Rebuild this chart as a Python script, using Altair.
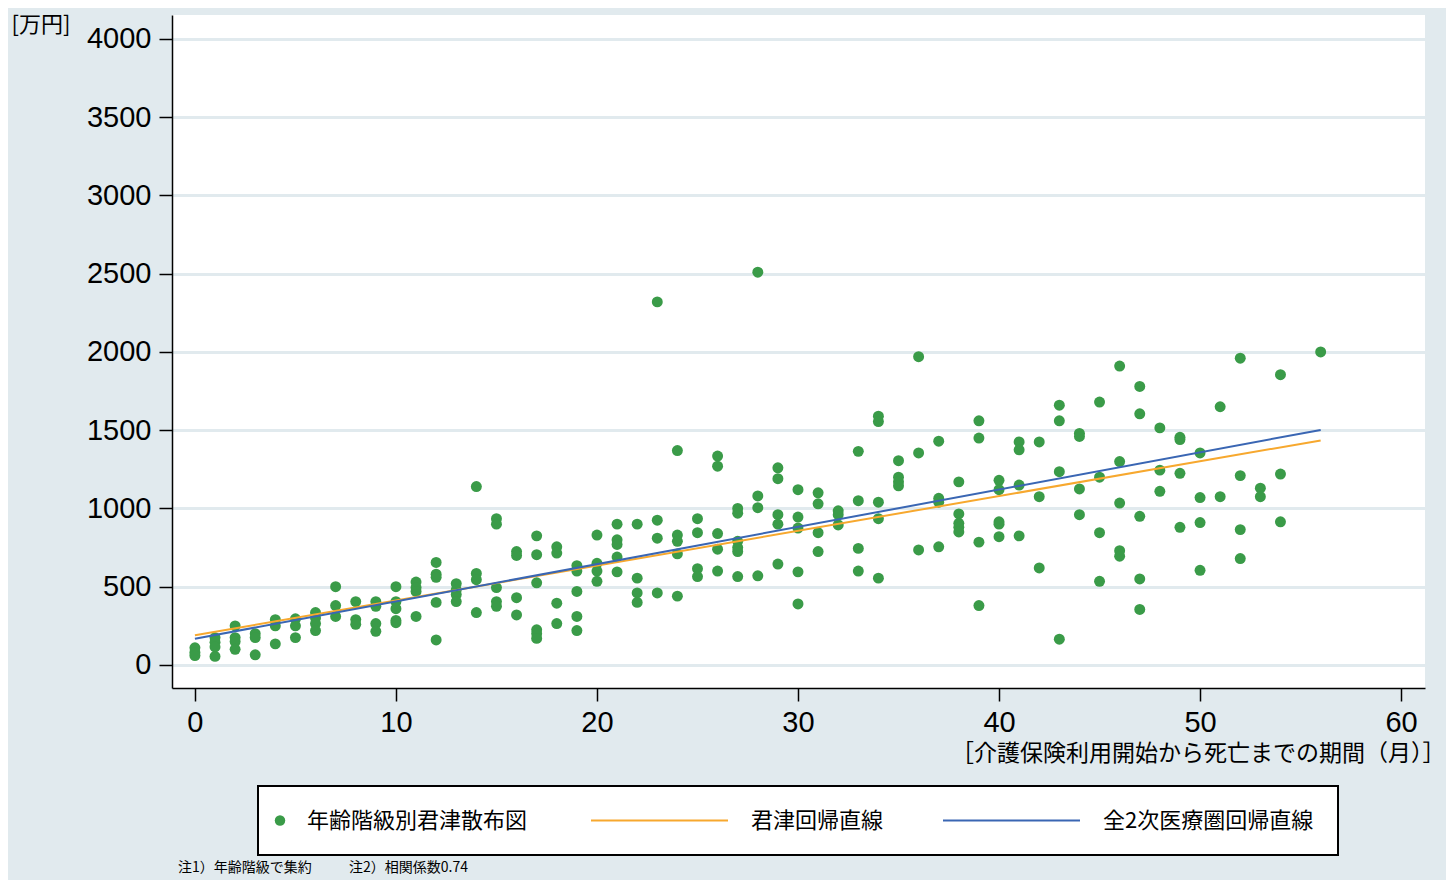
import altair as alt
import pandas as pd

# ---- data ----
month_values = [0, 1, 2, 3, 4, 5, 6, 7, 8, 9,
                10, 11, 12, 13, 14, 15, 16, 17, 18, 19,
                20, 21, 22, 23, 24, 25, 26, 27, 28, 29,
                30, 31, 32, 33, 34, 35, 36, 37, 38, 39,
                40, 41, 42, 43, 44, 45, 46, 47, 48, 49,
                50, 51, 52, 53, 54, 56]

cost_groups = [
    [110, 80, 60], [175, 145, 115, 55], [250, 175, 150, 100], [200, 175, 65],
    [290, 250, 135], [295, 250, 175], [335, 300, 265, 220], [500, 380, 310],
    [405, 290, 260], [405, 375, 265, 215],
    [500, 405, 360, 285, 270], [530, 495, 470, 310], [655, 580, 560, 400, 160],
    [520, 480, 450, 405], [1140, 585, 545, 335], [935, 900, 495, 405, 375],
    [725, 700, 430, 320], [825, 705, 525, 225, 200, 170], [755, 715, 395, 265],
    [635, 600, 470, 310, 220],
    [830, 650, 600, 535], [900, 800, 770, 690, 595], [900, 555, 460, 400],
    [2320, 925, 810, 460], [1370, 830, 790, 710, 440], [935, 845, 615, 565],
    [1335, 1270, 840, 740, 600], [1000, 970, 790, 750, 725, 565],
    [2510, 1080, 1005, 570], [1260, 1190, 960, 900, 645],
    [1120, 945, 875, 595, 390], [1100, 1030, 845, 725], [985, 960, 895],
    [1365, 1050, 745, 600], [1590, 1555, 1040, 935, 555], [1305, 1200, 1170, 1145],
    [1970, 1355, 735], [1430, 1065, 1040, 755], [1170, 965, 905, 880, 850],
    [1560, 1450, 785, 380],
    [1180, 1120, 915, 900, 820], [1425, 1375, 1150, 825], [1425, 1075, 620],
    [1660, 1560, 1235, 165], [1480, 1460, 1125, 960], [1680, 1200, 845, 535],
    [1910, 1300, 1035, 730, 695], [1780, 1605, 950, 550, 355], [1515, 1245, 1110],
    [1455, 1440, 1225, 880],
    [1355, 1070, 910, 605], [1650, 1075], [1960, 1210, 865, 680], [1130, 1075],
    [1855, 1220, 915], [2000],
]

fit_months = [0, 56]
fit_kimitsu = [190, 1435]
fit_all = [168, 1502]

scatter_name = "年齢階級別君津散布図"
line_names = ["君津回帰直線", "全2次医療圏回帰直線"]
scatter_color = "#3a9b48"
line_colors = ["#f7a82e", "#3a66b3"]

x_ticks = [0, 10, 20, 30, 40, 50, 60]
y_ticks = [0, 500, 1000, 1500, 2000, 2500, 3000, 3500, 4000]

y_unit = "[万円]"
x_title = "［介護保険利用開始から死亡までの期間（月）］"
notes = ["注1）年齢階級で集約", "注2）相関係数0.74"]

# ---- tables ----
rows = []
for m, grp in zip(month_values, cost_groups):
    for c in grp:
        rows.append({"month": m, "cost": c, "series": scatter_name})
pts = pd.DataFrame(rows)

lines = pd.DataFrame({
    "month": fit_months + fit_months,
    "cost": fit_kimitsu + fit_all,
    "series": [line_names[0]] * 2 + [line_names[1]] * 2,
})

BG = "#e1eaee"
JP = "Noto Sans CJK JP"
LAT = "Liberation Sans"

x_enc = alt.X(
    "month:Q",
    scale=alt.Scale(domain=[-1.14, 61.19], nice=False, zero=False),
    axis=alt.Axis(
        values=x_ticks, grid=False, labelFlush=False, format="d",
        domainColor="black", domainWidth=1.5, tickColor="black", tickWidth=1.5,
        tickSize=13, labelFont=LAT, labelFontSize=29, labelColor="black",
        labelPadding=7,
        title=x_title, titleFont=JP, titleFontSize=23, titleFontWeight="normal",
        titleColor="black", titleX=1273, titleY=65, titleAlign="right",
        titleBaseline="middle", titleAnchor="end",
    ),
)
y_enc = alt.Y(
    "cost:Q",
    scale=alt.Scale(domain=[-147, 4153], nice=False, zero=False),
    axis=alt.Axis(
        values=y_ticks, grid=True, gridColor=BG, gridWidth=3, format="d",
        domainColor="black", domainWidth=1.5, tickColor="black", tickWidth=1.5,
        tickSize=13, labelFont=LAT, labelFontSize=29, labelColor="black",
        labelPadding=8,
        title=y_unit, titleFont=JP, titleFontSize=22, titleFontWeight="normal",
        titleColor="black", titleAngle=0, titleX=-161, titleY=9,
        titleAlign="left", titleBaseline="middle",
    ),
)

fill_enc = alt.Fill(
    "series:N",
    scale=alt.Scale(domain=[scatter_name], range=[scatter_color]),
    legend=alt.Legend(
        title=None, orient="none", legendX=97, legendY=794.5,
        direction="horizontal", padding=0, symbolType="circle", symbolSize=110,
        symbolOffset=0, labelOffset=16, labelFont=JP, labelFontSize=22,
        labelColor="black", labelLimit=600, labelBaseline="middle",
        symbolOpacity=1,
    ),
)
stroke_enc = alt.Stroke(
    "series:N",
    scale=alt.Scale(domain=line_names, range=line_colors),
    legend=alt.Legend(
        title=None, orient="none", legendX=418, legendY=794.5,
        direction="horizontal", padding=0, symbolType="stroke",
        symbolSize=18769, symbolStrokeWidth=2, clipHeight=22,
        symbolOffset=0, labelOffset=22, columnPadding=58,
        labelFont=JP, labelFontSize=22, labelColor="black", labelLimit=600,
        labelBaseline="middle",
    ),
)

legend_box = alt.Chart(pd.DataFrame({"k": [0]})).mark_rect(
    fill="white", stroke="black", strokeWidth=2
).encode(
    x=alt.value(86), x2=alt.value(1166), y=alt.value(771), y2=alt.value(840)
)

points = alt.Chart(pts).mark_circle(size=120, opacity=1).encode(
    x=x_enc, y=y_enc, fill=fill_enc
)
fits = alt.Chart(lines).mark_line(strokeWidth=2).encode(
    x=x_enc, y=y_enc, stroke=stroke_enc
)

note1 = alt.Chart(pd.DataFrame({"t": [notes[0]]})).mark_text(
    align="left", baseline="middle", font=JP, fontSize=14, color="black"
).encode(text="t:N", x=alt.value(6), y=alt.value(853))
note2 = alt.Chart(pd.DataFrame({"t": [notes[1]]})).mark_text(
    align="left", baseline="middle", font=JP, fontSize=14, color="black"
).encode(text="t:N", x=alt.value(177), y=alt.value(853))

chart = alt.layer(legend_box, points, fits, note1, note2).properties(
    width=1253, height=673, background=BG,
    padding={"left": 164, "top": 7, "right": 21, "bottom": 192},
    autosize=alt.AutoSizeParams(type="none"),
).configure_view(fill="white", strokeWidth=0)

chart.save("out.html", embed_options={"renderer": "svg", "actions": False})
